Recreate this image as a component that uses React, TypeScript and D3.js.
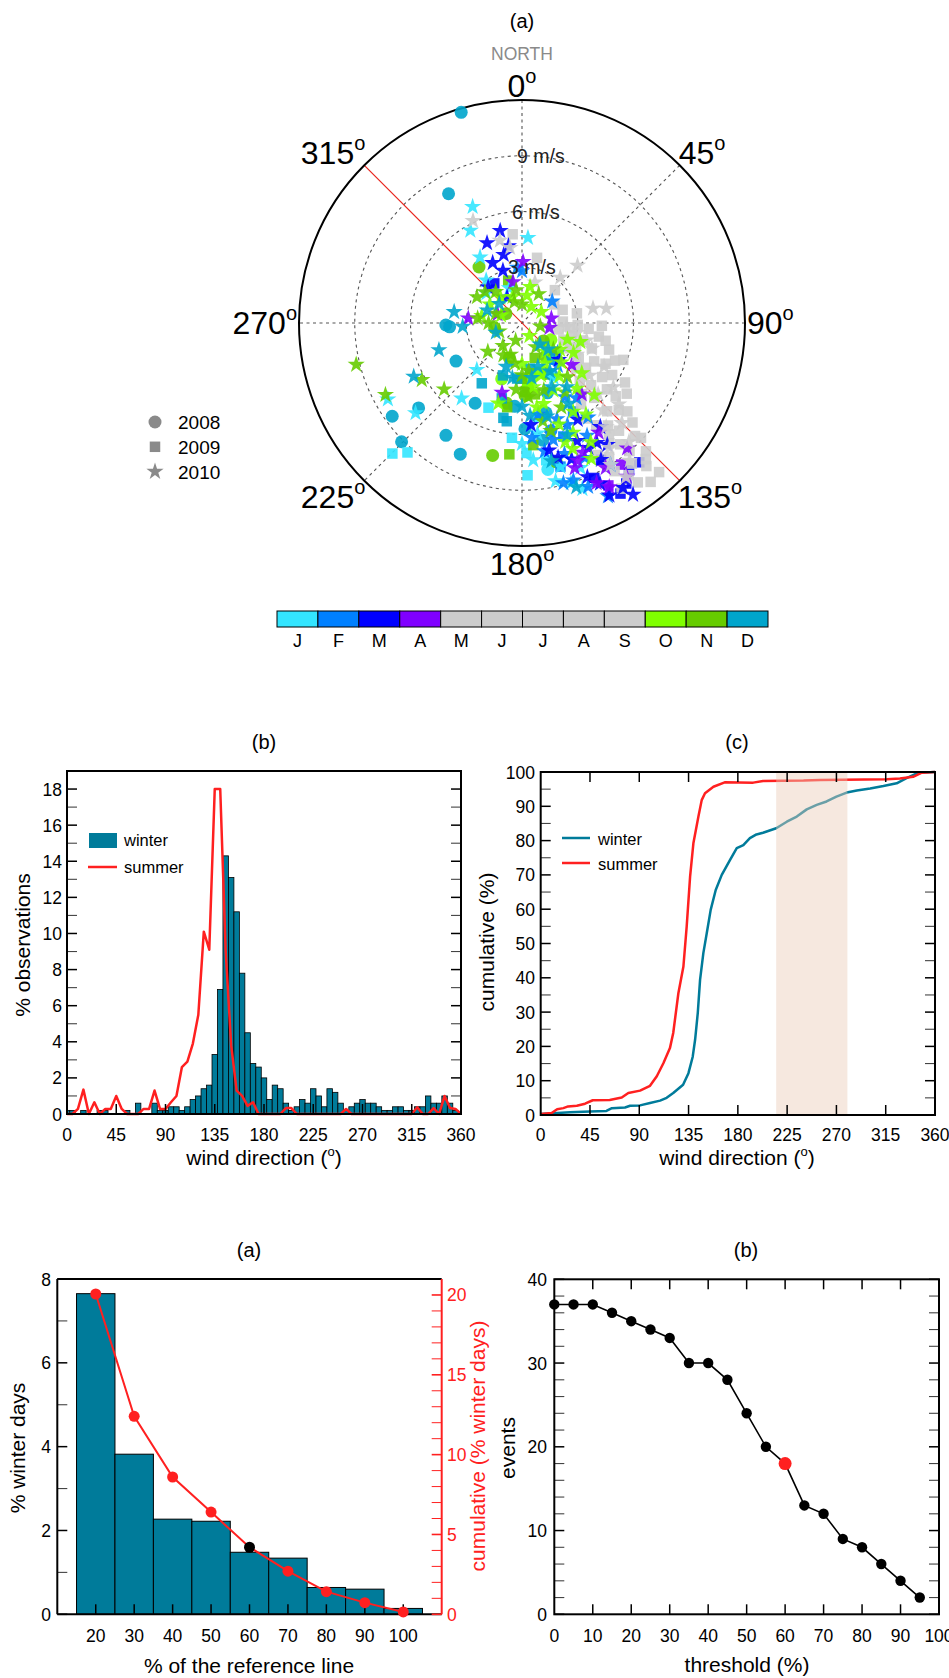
import React from 'react';
import * as d3 from 'd3';

const FONT = '"Liberation Sans", Arial, Helvetica, sans-serif';
const TEAL = '#007b9a';
const RED = '#ff2020';

/* ---------------- (a) polar scatter ---------------- */
const monthLabels = ['J', 'F', 'M', 'A', 'M', 'J', 'J', 'A', 'S', 'O', 'N', 'D'];
const monthColors = ['#33e5ff', '#0080ff', '#0000ff', '#8000ff', '#cccccc', '#cccccc', '#cccccc', '#cccccc', '#cccccc', '#80ff00', '#66cc00', '#00a5cc'];
const yearLabels = ['2008', '2009', '2010'];
const speedRings = [3, 6, 9];
const compassDirections = [0, 45, 90, 135, 180, 225, 270, 315];
const dashedAxes = [0, 45, 90];
const referenceDirection = 315;

// [month (1-12), direction (deg), speed (m/s)]
const points2008: number[][] = [
  [12, 343.9, 11.8], [12, 330.4, 8.0], [12, 268.5, 4.1], [12, 267, 3.9], [12, 240, 4.1], [12, 234.3, 8.6], [12, 230.6, 7.2],
  [12, 210.3, 5.0], [12, 225.4, 9.1], [12, 214.1, 7.3], [12, 205.2, 7.8], [12, 178.4, 5.7], [12, 185, 4.5], [12, 160, 4.0],
  [12, 150, 3.2], [12, 140, 2.5], [12, 170, 6.4], [12, 165, 5.0],
  [11, 322.5, 3.8], [11, 192.5, 7.3], [11, 190.8, 4.4], [11, 166.1, 7.7], [11, 177.6, 3.9], [11, 175, 3.5], [11, 200, 2.0],
  [11, 155, 3.0], [11, 145, 2.2], [11, 130, 1.5], [11, 300, 1.0], [11, 260, 1.5],
  [10, 170, 3.0], [10, 120, 1.8], [10, 200, 3.2],
  [2, 165, 6.0], [1, 170, 8.0],
];

const points2009: number[][] = [
  [1, 201.6, 4.9], [1, 224.8, 9.9], [1, 221.5, 9.3], [1, 177.9, 8.2], [1, 185, 6.2], [1, 178, 7.0], [1, 170, 7.5],
  [2, 160, 6.5], [2, 150, 5.5], [2, 165, 8.0],
  [3, 144, 9.8], [3, 139.9, 9.8], [3, 325, 2.6], [3, 150, 8.5], [3, 155, 9.2], [3, 147, 10.3], [3, 150, 10.6],
  [4, 145, 9.3], [4, 152, 9.9],
  [5, 88, 2.2], [5, 95, 2.6], [5, 100, 2.0], [5, 105, 2.8], [5, 112, 2.4], [5, 118, 2.9], [5, 92, 3.0],
  [6, 95, 3.6], [6, 100, 4.2], [6, 106, 3.4], [6, 110, 4.0], [6, 115, 3.2], [6, 118, 4.4], [6, 122, 3.6], [6, 125, 4.2],
  [6, 130, 3.8], [6, 135, 4.4], [6, 92, 4.3], [6, 102, 4.6],
  [7, 107, 4.9], [7, 112, 5.4], [7, 116, 5.0], [7, 120, 5.6], [7, 124, 5.2], [7, 128, 5.8], [7, 132, 5.0], [7, 136, 5.6],
  [7, 140, 5.0], [7, 144, 5.4], [7, 110, 5.8],
  [8, 120, 6.4], [8, 124, 6.8], [8, 128, 6.4], [8, 132, 7.0], [8, 136, 6.6], [8, 140, 7.2], [8, 144, 6.8], [8, 146, 6.2],
  [8, 130, 7.4], [8, 142, 7.6],
  [9, 132, 8.0], [9, 135, 8.6], [9, 138, 7.8], [9, 141, 8.4], [9, 144, 8.0], [9, 147, 8.6], [9, 150, 8.2], [9, 134, 8.9],
  [9, 140, 9.0], [9, 136, 9.6], [9, 139, 10.2], [9, 142, 9.6], [9, 145, 10.0], [9, 148, 9.4], [9, 137.4, 10.9],
  [9, 137.7, 9.9], [9, 144, 10.6], [9, 141, 11.0], [9, 149, 10.4],
  [5, 72, 2.3], [5, 45, 2.5], [6, 13, 3.6], [7, 354, 4.8], [8, 60, 2.0], [8, 80, 3.0],
  [10, 175, 3.2], [10, 160, 2.8],
  [11, 185.5, 7.1], [11, 174.7, 6.6], [11, 177.5, 3.7], [11, 169.8, 3.9], [11, 342, 2.4], [11, 180, 3.0], [11, 190, 4.6], [11, 160, 2.0],
  [12, 213.7, 3.9], [12, 191.1, 5.2], [12, 188.8, 5.35], [12, 200, 3.0], [12, 185, 3.0], [12, 170, 2.5], [12, 195, 4.2],
];

const points2010: number[][] = [
  [1, 337, 6.8], [1, 330.8, 5.7], [1, 4, 4.6], [1, 327.5, 4.2], [1, 218.7, 5.2], [1, 224, 3.5], [1, 240.4, 8.3], [1, 229.8, 7.5],
  [1, 175.3, 7.4], [1, 165, 8.0], [1, 168, 8.7], [1, 160, 9.5], [1, 172, 6.0], [1, 180, 6.5], [1, 310, 2.5], [1, 320, 3.0],
  [1, 163, 9.0], [1, 158, 8.4], [1, 170, 5.2], [1, 150, 3.4], [1, 340, 2.0],
  [2, 160, 5.5], [2, 165, 6.5], [2, 150, 7.0], [2, 155, 8.0], [2, 153.6, 10.4], [2, 161.9, 8.9], [2, 165.5, 8.9], [2, 170, 7.0],
  [2, 145, 6.2], [2, 158, 9.5], [2, 148, 9.0], [2, 140, 3.0], [2, 130, 2.5], [2, 54.3, 2.0], [2, 355, 3.0], [2, 170, 5.0],
  [2, 175, 6.2], [2, 162, 7.4], [2, 156, 6.0], [2, 150, 4.6], [2, 144, 5.0], [2, 0, 2.8],
  [3, 154.1, 9.6], [3, 153.1, 10.4], [3, 148.5, 10.4], [3, 147.1, 11.0], [3, 150, 8.5], [3, 155, 7.0], [3, 160, 7.8], [3, 145, 8.0],
  [3, 143, 7.0], [3, 346.7, 5.1], [3, 336.4, 4.7], [3, 334, 3.6], [3, 316.6, 2.65], [3, 345, 3.8], [3, 340, 3.0], [3, 150, 6.0],
  [3, 165, 7.5], [3, 135, 2.8], [3, 175, 5.5], [3, 168, 7.0], [3, 157, 9.0], [3, 152, 7.6], [3, 148, 7.6], [3, 330, 1.6], [3, 350, 4.2],
  [4, 145.7, 10.0], [4, 154.8, 7.7], [4, 81, 1.6], [4, 1, 3.3], [4, 347.6, 2.25], [4, 275, 2.9], [4, 196, 3.9], [4, 150, 9.0],
  [4, 155, 9.5], [4, 140, 8.8], [4, 160, 8.3], [4, 140, 5.0], [4, 130, 3.5], [4, 100, 1.5], [4, 145, 7.2], [4, 158, 8.0],
  [4, 152, 10.0], [4, 290, 1.4],
  [5, 44, 4.3], [5, 40, 3.2], [5, 78.4, 3.9], [6, 80.2, 4.6], [6, 17.6, 2.3], [6, 345, 4.6], [7, 351, 4.1], [7, 334.4, 6.1],
  [7, 100, 3.0], [7, 110, 4.0], [7, 118, 5.0], [8, 125, 6.0], [8, 130, 6.8], [8, 135, 7.6], [8, 138, 8.6], [8, 142, 9.4],
  [9, 146, 10.0], [9, 120, 3.4], [9, 128, 4.6], [9, 133, 5.6], [9, 137, 6.4], [9, 141, 7.2], [9, 145, 8.2], [9, 148, 9.0],
  [5, 105, 3.6], [6, 115, 2.8], [7, 95, 2.4],
  [10, 196.4, 4.5], [10, 107.9, 3.3], [10, 12.5, 2.0], [10, 153, 8.2], [10, 300, 2.0], [10, 320, 1.8], [10, 280, 2.2], [10, 10, 1.5],
  [10, 60, 1.2], [10, 150, 0.8], [10, 140, 2.0], [10, 150, 2.5], [10, 160, 3.0], [10, 170, 3.5], [10, 155, 4.0], [10, 145, 3.5],
  [10, 165, 4.5], [10, 135, 3.0], [10, 125, 2.5], [10, 150, 5.5], [10, 155, 6.5], [10, 145, 6.0], [10, 158, 7.3], [10, 130, 4.2],
  [10, 140, 4.6], [10, 160, 5.8], [10, 180, 2.2], [10, 120, 3.2], [10, 110, 2.6], [10, 290, 1.2], [10, 340, 1.5], [10, 30, 1.0],
  [10, 160, 6.8], [10, 150, 7.4], [10, 170, 4.6], [10, 135, 5.5],
  [11, 255.9, 9.2], [11, 240.4, 6.2], [11, 242.3, 8.3], [11, 229.6, 5.5], [11, 276, 2.4], [11, 290, 1.5], [11, 340, 1.2], [11, 30, 1.8],
  [11, 100, 1.0], [11, 200, 1.0], [11, 250, 1.3], [11, 270, 1.8], [11, 180, 2.8], [11, 190, 2.2], [11, 200, 1.8], [11, 175, 4.0],
  [11, 185, 3.6], [11, 210, 2.0], [11, 220, 1.6], [11, 230, 2.4], [11, 165, 6.0], [11, 162, 3.8], [11, 148, 4.4], [11, 172, 2.6],
  [11, 310, 2.6], [11, 320, 2.2], [11, 300, 2.8], [11, 350, 1.8], [11, 0, 1.0], [11, 150, 1.5], [11, 140, 3.8], [11, 130, 2.2],
  [11, 155, 5.0], [11, 168, 5.4],
  [12, 279.3, 3.7], [12, 266.5, 3.2], [12, 252, 4.7], [12, 243.7, 6.5], [12, 161.7, 9.3], [12, 160, 2.5], [12, 170, 3.0], [12, 150, 3.0],
  [12, 145, 4.2], [12, 175, 5.0], [12, 165, 5.2], [12, 155, 3.8], [12, 180, 4.5], [12, 190, 3.0], [12, 135, 2.0], [12, 200, 2.5],
  [12, 250, 1.5], [12, 158, 6.5], [12, 168, 7.6], [12, 150, 5.0], [12, 140, 1.5], [12, 290, 2.0], [12, 310, 1.6],
];

/* ---------------- (b) histogram ---------------- */
const histBinCenters = [0, 5, 10, 15, 20, 25, 30, 35, 40, 45, 50, 55, 60, 65, 70, 75, 80, 85, 90, 95, 100, 105, 110, 115, 120, 125, 130, 135, 140, 145, 150, 155, 160, 165, 170, 175, 180, 185, 190, 195, 200, 205, 210, 215, 220, 225, 230, 235, 240, 245, 250, 255, 260, 265, 270, 275, 280, 285, 290, 295, 300, 305, 310, 315, 320, 325, 330, 335, 340, 345, 350, 355];
const winterPct = [0.2, 0.2, 0, 0.2, 0, 0, 0.2, 0.2, 0, 0, 0, 0.2, 0, 0.6, 0, 0, 0.6, 0.2, 0.2, 0.4, 0.4, 0.2, 0.4, 0.8, 1.0, 1.4, 1.6, 3.3, 6.9, 14.3, 13.1, 11.2, 7.8, 4.5, 2.8, 2.6, 2.0, 0.8, 1.6, 1.4, 0.6, 0.2, 0.4, 0.8, 0.6, 1.4, 1.0, 0.4, 1.4, 1.2, 0.6, 0.2, 0.4, 0.6, 0.8, 0.6, 0.6, 0.4, 0.2, 0.2, 0.4, 0.4, 0.2, 0.2, 0.4, 0.4, 1.0, 0.6, 0.6, 1.0, 0.6, 0.2];
const summerDirs = [0, 5, 10, 15, 20, 25, 30, 35, 40, 45, 50, 55, 60, 65, 70, 75, 80, 85, 90, 95, 100, 105, 110, 115, 120, 125, 130, 135, 140, 145, 150, 155, 160, 165, 170, 175, 180, 185, 190, 195, 200, 205, 210, 215, 220, 225, 230, 235, 240, 245, 250, 255, 260, 265, 270, 275, 280, 285, 290, 295, 300, 305, 310, 315, 320, 325, 330, 335, 340, 345, 350, 355, 360];
const summerPct = [0, 0, 0.28, 1.35, 0, 0.65, 0, 0.28, 0.28, 1.0, 0.28, 0, 0, 0, 0.28, 0.28, 1.3, 0.28, 0.28, 0.65, 1.0, 2.6, 2.9, 3.9, 5.5, 10.1, 9.1, 18, 18, 9.0, 3.8, 1.3, 1.0, 0.45, 0.65, 0, 0, 0, 0, 0, 0.33, 0.33, 0, 0, 0, 0, 0, 0, 0, 0, 0, 0.28, 0, 0, 0, 0, 0, 0, 0, 0, 0, 0, 0, 0, 0.37, 0, 0, 0.33, 0, 1.0, 0.33, 0.28, 0];
const directionTicks = [0, 45, 90, 135, 180, 225, 270, 315, 360];
const histYTicks = [0, 2, 4, 6, 8, 10, 12, 14, 16, 18];

/* ---------------- (c) cumulative ---------------- */
const winterCumDir = [0, 26.8, 45, 60, 65, 77, 81.6, 90.7, 99.8, 109, 115, 121, 130, 134.9, 138.8, 141, 143.4, 145.5, 148.5, 151.6, 155.2, 159.8, 165.3, 172.9, 179, 185, 191, 197, 203, 215, 224.7, 233.8, 242.9, 252, 261, 270, 279.4, 288.6, 300.8, 312.9, 325, 334, 341.9, 346.4, 360];
const winterCum = [0.3, 0.8, 1.0, 1.2, 2.0, 2.2, 2.7, 2.8, 3.5, 4.2, 5.0, 6.4, 8.8, 12.2, 17, 22, 29.7, 39.4, 47.2, 53, 59.8, 65.6, 70, 74.4, 77.8, 78.7, 80.7, 81.8, 82.3, 83.6, 85.5, 87, 89.1, 90.4, 91.4, 92.8, 94, 94.6, 95.2, 95.9, 96.7, 98.2, 99.4, 99.8, 100];
const summerCumDir = [0, 10, 15, 20.7, 25, 33, 40.5, 47.5, 63, 74, 80, 90.7, 99.8, 106, 112, 118, 121, 125.7, 130.3, 133.3, 136.4, 139.4, 144, 147, 150, 157.7, 168, 194, 203, 240, 255, 316, 328, 340, 348, 360];
const summerCum = [0.3, 0.6, 1.7, 2.0, 2.5, 2.7, 3.3, 4.3, 4.4, 5.1, 6.4, 7.1, 8.5, 11.3, 15.1, 19.5, 23.9, 35.5, 43.3, 55, 69.5, 79.2, 87, 91.8, 93.8, 95.7, 97, 96.9, 97.4, 97.5, 97.7, 97.9, 98.1, 98.6, 99.8, 100];
const shadedSector = [215, 280];
const cumYTicks = [0, 10, 20, 30, 40, 50, 60, 70, 80, 90, 100];

/* ---------------- bottom (a) ---------------- */
const refLinePct = [20, 30, 40, 50, 60, 70, 80, 90, 100];
const winterDaysPct = [7.65, 3.82, 2.27, 2.22, 1.48, 1.34, 0.64, 0.6, 0.14];
const cumulativeWinterDays = [20.06, 12.4, 8.6, 6.4, 4.2, 2.7, 1.42, 0.73, 0.15];
const highlightedRef = 60;
const winterDaysTicks = [0, 2, 4, 6, 8];
const cumulativeTicks = [0, 5, 10, 15, 20];

/* ---------------- bottom (b) ---------------- */
const thresholds = [0, 5, 10, 15, 20, 25, 30, 35, 40, 45, 50, 55, 60, 65, 70, 75, 80, 85, 90, 95];
const events = [37, 37, 37, 36, 35, 34, 33, 30, 30, 28, 24, 20, 18, 13, 12, 9, 8, 6, 4, 2];
const highlightedThreshold = 60;
const thresholdTicks = [0, 10, 20, 30, 40, 50, 60, 70, 80, 90, 100];
const eventTicks = [0, 10, 20, 30, 40];

const Deg = ({ x, y, v, anchor, size = 18, sup = 12, dy = -8, close = '' }: any) => (
  <text x={x} y={y} textAnchor={anchor} fontSize={size} fontFamily={FONT}>
    {v}
    <tspan dy={dy} fontSize={sup}>o</tspan>
    {close ? <tspan dy={-dy}>{close}</tspan> : null}
  </text>
);

export default function App() {
  /* ----- polar ----- */
  const pcx = 522, pcy = 323, PR = 223;
  const rScale = d3.scaleLinear().domain([0, 12]).range([0, PR]);
  const pos = (dir: number, spd: number) => {
    const a = (dir * Math.PI) / 180;
    const r = rScale(spd);
    return [pcx + r * Math.sin(a), pcy - r * Math.cos(a)];
  };
  const symCircle = d3.symbol().type(d3.symbolCircle).size(Math.PI * 6.5 * 6.5)() as string;
  const symSquare = d3.symbol().type(d3.symbolSquare).size(10.5 * 10.5)() as string;
  const symStar = d3.symbol().type(d3.symbolStar).size(92)() as string;
  const yearSymbols = [symCircle, symSquare, symStar];
  const allPoints: { m: number; d: number; s: number; y: number }[] = [];
  [points2008, points2009, points2010].forEach((arr, yi) => {
    const sorted = [...arr].sort((a, b) => a[0] - b[0]);
    sorted.forEach((p) => allPoints.push({ m: p[0], d: p[1], s: p[2], y: yi }));
  });

  const compassLabelStyle: Record<number, { dx: number; dy: number; anchor: string }> = {
    0: { dx: 0, dy: -3, anchor: 'middle' },
    45: { dx: -1, dy: -1, anchor: 'start' },
    90: { dx: 2, dy: 11, anchor: 'start' },
    135: { dx: -2, dy: 27, anchor: 'start' },
    180: { dx: 0, dy: 29, anchor: 'middle' },
    225: { dx: 1, dy: 27, anchor: 'end' },
    270: { dx: -2, dy: 11, anchor: 'end' },
    315: { dx: 1, dy: -1, anchor: 'end' },
  };
  const ringLabelDx = [-14, -10, -5];

  const cbX = d3.scaleBand<number>().domain(d3.range(12)).range([277, 768]).padding(0);

  /* ----- panel (b) ----- */
  const bx = d3.scaleLinear().domain([0, 360]).range([67, 461]);
  const by = d3.scaleLinear().domain([0, 19]).range([1114, 771]);
  const summerLine = d3.line<number>().x((d, i) => bx(summerDirs[i])).y((d) => by(d))(summerPct) as string;

  /* ----- panel (c) ----- */
  const cx2 = d3.scaleLinear().domain([0, 360]).range([540.7, 935]);
  const cy2 = d3.scaleLinear().domain([0, 100]).range([1115, 772]);
  const winterCumLine = d3.line<number>().x((d, i) => cx2(winterCumDir[i])).y((d) => cy2(d))(winterCum) as string;
  const summerCumLine = d3.line<number>().x((d, i) => cx2(summerCumDir[i])).y((d) => cy2(d))(summerCum) as string;

  /* ----- bottom (a) ----- */
  const ax = d3.scaleLinear().domain([10, 110]).range([57.3, 441.7]);
  const ayL = d3.scaleLinear().domain([0, 8]).range([1614.3, 1279]);
  const ayR = d3.scaleLinear().domain([0, 21]).range([1614.3, 1279]);
  const cumLine = d3.line<number>().x((d, i) => ax(refLinePct[i])).y((d) => ayR(d))(cumulativeWinterDays) as string;

  /* ----- bottom (b) ----- */
  const ex = d3.scaleLinear().domain([0, 100]).range([554.3, 939]);
  const ey = d3.scaleLinear().domain([0, 40]).range([1614.3, 1279.3]);
  const eventsLine = d3.line<number>().x((d, i) => ex(thresholds[i])).y((d) => ey(d))(events) as string;

  const TL = 10; // tick length
  const tickFont = 17.5;
  const titleFont = 20;
  const axisFont = 21;

  const yTicksBoth = (scale: any, vals: number[], x0: number, x1: number, majorEvery: number, key: string) =>
    vals.map((v) => {
      const y = scale(v);
      const major = Math.abs(v / majorEvery - Math.round(v / majorEvery)) < 1e-6;
      const st = major ? '#000' : '#444';
      const w = major ? 1.5 : 1.1;
      return (
        <g key={key + v}>
          <line x1={x0} x2={x0 + TL} y1={y} y2={y} stroke={st} strokeWidth={w} />
          <line x1={x1} x2={x1 - TL} y1={y} y2={y} stroke={st} strokeWidth={w} />
        </g>
      );
    });

  return (
    <svg width={949} height={1678} style={{ position: 'absolute', left: 0, top: 0, background: '#fff' }} fontFamily={FONT}>
      <rect x={0} y={0} width={949} height={1678} fill="#fff" />

      {/* ================= (a) polar ================= */}
      <text x={pcx} y={28} textAnchor="middle" fontSize={titleFont}>(a)</text>
      <text x={pcx} y={60} textAnchor="middle" fontSize={17.5} fill="#8a8a8a">NORTH</text>
      {speedRings.map((s) => (
        <circle key={'ring' + s} cx={pcx} cy={pcy} r={rScale(s)} fill="none" stroke="#555" strokeWidth={1.1} strokeDasharray="3,3.5" />
      ))}
      {dashedAxes.map((a) => {
        const [x1, y1] = pos(a, 12);
        const [x2, y2] = pos(a + 180, 12);
        return <line key={'ax' + a} x1={x1} y1={y1} x2={x2} y2={y2} stroke="#555" strokeWidth={1.1} strokeDasharray="3,3.5" />;
      })}
      {(() => {
        const [x1, y1] = pos(referenceDirection, 12);
        const [x2, y2] = pos(referenceDirection - 180, 12);
        return <line x1={x1} y1={y1} x2={x2} y2={y2} stroke="#e8261e" strokeWidth={1.2} />;
      })()}
      <circle cx={pcx} cy={pcy} r={PR} fill="none" stroke="#000" strokeWidth={2} />
      {allPoints.map((p, i) => {
        const [x, y] = pos(p.d, p.s);
        return (
          <path key={'pt' + i} d={yearSymbols[p.y]} transform={`translate(${x},${y})`} fill={monthColors[p.m - 1]} fillOpacity={0.9} />
        );
      })}
      {speedRings.map((s, i) => (
        <text key={'rl' + s} x={pcx + ringLabelDx[i]} y={pcy - rScale(s) + 7} fontSize={19.5} fill="#222">
          {s} m/s
        </text>
      ))}
      {compassDirections.map((a) => {
        const [x, y] = pos(a, 12);
        const st = compassLabelStyle[a];
        return <Deg key={'cd' + a} x={x + st.dx} y={y + st.dy} v={a} anchor={st.anchor} size={32} sup={20} dy={-14} />;
      })}
      {/* year legend */}
      {yearLabels.map((yl, i) => (
        <g key={'yl' + yl}>
          <path d={yearSymbols[i]} transform={`translate(155,${422 + i * 24.8})`} fill="#8a8a8a" />
          <text x={178} y={429 + i * 24.8} fontSize={19}>{yl}</text>
        </g>
      ))}
      {/* colorbar */}
      {monthLabels.map((m, i) => (
        <g key={'cb' + i}>
          <rect x={cbX(i)} y={611} width={cbX.bandwidth()} height={16} fill={monthColors[i]} stroke="#000" strokeWidth={1} />
          <text x={(cbX(i) as number) + cbX.bandwidth() / 2} y={647} textAnchor="middle" fontSize={18}>{m}</text>
        </g>
      ))}

      {/* ================= (b) histogram ================= */}
      <text x={264} y={749} textAnchor="middle" fontSize={titleFont}>(b)</text>
      {histBinCenters.map((c, i) => {
        const x0 = bx(Math.max(0, c - 2.5));
        const x1 = bx(Math.min(360, c + 2.5));
        return winterPct[i] > 0 ? (
          <rect key={'hb' + i} x={x0} y={by(winterPct[i])} width={x1 - x0} height={by(0) - by(winterPct[i])} fill={TEAL} stroke="#000" strokeWidth={0.8} />
        ) : null;
      })}
      <path d={summerLine} fill="none" stroke={RED} strokeWidth={2.5} strokeLinejoin="round" />
      {yTicksBoth(by, d3.range(0, 20), 67, 461, 2, 'bt')}
      {directionTicks.slice(1, -1).map((v) => (
        <line key={'bxt' + v} x1={bx(v)} x2={bx(v)} y1={1114} y2={1114 - TL} stroke="#000" strokeWidth={1.5} />
      ))}
      <rect x={67} y={771} width={461 - 67} height={1114 - 771} fill="none" stroke="#000" strokeWidth={2} />
      {histYTicks.map((v) => (
        <text key={'byl' + v} x={62} y={by(v) + 6.5} textAnchor="end" fontSize={tickFont}>{v}</text>
      ))}
      {directionTicks.map((v) => (
        <text key={'bxl' + v} x={bx(v)} y={1141} textAnchor="middle" fontSize={tickFont}>{v}</text>
      ))}
      <Deg x={264} y={1165} v="wind direction (" anchor="middle" size={axisFont} sup={13} dy={-9} close=")" />
      <text transform="translate(30,945) rotate(-90)" textAnchor="middle" fontSize={axisFont}>% observations</text>
      {/* legend */}
      <rect x={89} y={833} width={28} height={15} fill={TEAL} />
      <text x={124} y={846} fontSize={16.5}>winter</text>
      <line x1={88} x2={117} y1={867} y2={867} stroke={RED} strokeWidth={2.5} />
      <text x={124} y={873} fontSize={16.5}>summer</text>

      {/* ================= (c) cumulative ================= */}
      <text x={737} y={749} textAnchor="middle" fontSize={titleFont}>(c)</text>
      <path d={winterCumLine} fill="none" stroke={TEAL} strokeWidth={2.5} strokeLinejoin="round" />
      <path d={summerCumLine} fill="none" stroke={RED} strokeWidth={2.5} strokeLinejoin="round" />
      <rect x={cx2(shadedSector[0])} y={772} width={cx2(shadedSector[1]) - cx2(shadedSector[0])} height={1115 - 772} fill="rgb(235,205,185)" fillOpacity={0.45} />
      {yTicksBoth(cy2, d3.range(0, 101, 5), 540.7, 935, 10, 'ct')}
      {directionTicks.slice(1, -1).map((v) => (
        <g key={'cxt' + v}>
          <line x1={cx2(v)} x2={cx2(v)} y1={1115} y2={1115 - TL} stroke="#000" strokeWidth={1.5} />
          <line x1={cx2(v)} x2={cx2(v)} y1={772} y2={772 + TL} stroke="#000" strokeWidth={1.5} />
        </g>
      ))}
      <rect x={540.7} y={772} width={935 - 540.7} height={1115 - 772} fill="none" stroke="#000" strokeWidth={2} />
      {cumYTicks.map((v) => (
        <text key={'cyl' + v} x={535} y={cy2(v) + 6.5} textAnchor="end" fontSize={tickFont}>{v}</text>
      ))}
      {directionTicks.map((v) => (
        <text key={'cxl' + v} x={cx2(v)} y={1141} textAnchor="middle" fontSize={tickFont}>{v}</text>
      ))}
      <Deg x={737} y={1165} v="wind direction (" anchor="middle" size={axisFont} sup={13} dy={-9} close=")" />
      <text transform="translate(494,942) rotate(-90)" textAnchor="middle" fontSize={axisFont}>cumulative (%)</text>
      <line x1={562} x2={590} y1={838} y2={838} stroke={TEAL} strokeWidth={2.5} />
      <text x={598} y={845} fontSize={16.5}>winter</text>
      <line x1={562} x2={590} y1={863} y2={863} stroke={RED} strokeWidth={2.5} />
      <text x={598} y={870} fontSize={16.5}>summer</text>

      {/* ================= bottom (a) ================= */}
      <text x={249} y={1257} textAnchor="middle" fontSize={titleFont}>(a)</text>
      {refLinePct.map((r, i) => (
        <rect key={'ab' + r} x={ax(r - 5)} y={ayL(winterDaysPct[i])} width={ax(r + 5) - ax(r - 5)} height={ayL(0) - ayL(winterDaysPct[i])} fill={TEAL} stroke="#000" strokeWidth={1} />
      ))}
      {d3.range(0, 9).map((v) => (
        <line key={'alt' + v} x1={57.3} x2={57.3 + TL} y1={ayL(v)} y2={ayL(v)} stroke={v % 2 === 0 ? '#000' : '#444'} strokeWidth={v % 2 === 0 ? 1.5 : 1.1} />
      ))}
      {refLinePct.map((r) => (
        <line key={'axt' + r} x1={ax(r)} x2={ax(r)} y1={1614.3} y2={1614.3 - TL} stroke="#000" strokeWidth={1.5} />
      ))}
      <line x1={57.3} x2={441.7} y1={1279} y2={1279} stroke="#000" strokeWidth={2} />
      <line x1={57.3} x2={57.3} y1={1279} y2={1614.3} stroke="#000" strokeWidth={2} />
      <line x1={57.3} x2={441.7} y1={1614.3} y2={1614.3} stroke="#000" strokeWidth={2} />
      <line x1={441.7} x2={441.7} y1={1279} y2={1614.3} stroke={RED} strokeWidth={2} />
      {d3.range(0, 21).map((v) => (
        <line key={'art' + v} x1={441.7} x2={441.7 - TL} y1={ayR(v)} y2={ayR(v)} stroke={RED} strokeWidth={v % 5 === 0 ? 1.6 : 1} />
      ))}
      <path d={cumLine} fill="none" stroke={RED} strokeWidth={2} />
      {refLinePct.map((r, i) => (
        <circle key={'ac' + r} cx={ax(r)} cy={ayR(cumulativeWinterDays[i])} r={5.5} fill={r === highlightedRef ? '#000' : RED} />
      ))}
      {winterDaysTicks.map((v) => (
        <text key={'ayl' + v} x={51} y={ayL(v) + 6.5} textAnchor="end" fontSize={tickFont}>{v}</text>
      ))}
      {cumulativeTicks.map((v) => (
        <text key={'ayr' + v} x={447} y={ayR(v) + 6.5} fontSize={tickFont} fill={RED}>{v}</text>
      ))}
      {refLinePct.map((r) => (
        <text key={'axl' + r} x={ax(r)} y={1642} textAnchor="middle" fontSize={tickFont}>{r}</text>
      ))}
      <text transform="translate(25,1448) rotate(-90)" textAnchor="middle" fontSize={axisFont}>% winter days</text>
      <text x={249} y={1673} textAnchor="middle" fontSize={axisFont}>% of the reference line</text>
      <text transform="translate(485,1446) rotate(-90)" textAnchor="middle" fontSize={axisFont} fill={RED}>cumulative (% winter days)</text>

      {/* ================= bottom (b) ================= */}
      <text x={746} y={1257} textAnchor="middle" fontSize={titleFont}>(b)</text>
      {yTicksBoth(ey, d3.range(0, 41, 2), 554.3, 939, 10, 'et')}
      {thresholdTicks.slice(1, -1).map((v) => (
        <g key={'ext' + v}>
          <line x1={ex(v)} x2={ex(v)} y1={1614.3} y2={1614.3 - TL} stroke="#000" strokeWidth={1.5} />
          <line x1={ex(v)} x2={ex(v)} y1={1279.3} y2={1279.3 + TL} stroke="#000" strokeWidth={1.5} />
        </g>
      ))}
      <rect x={554.3} y={1279.3} width={939 - 554.3} height={1614.3 - 1279.3} fill="none" stroke="#000" strokeWidth={2} />
      <path d={eventsLine} fill="none" stroke="#000" strokeWidth={1.6} />
      {thresholds.map((t, i) => (
        <circle key={'ec' + t} cx={ex(t)} cy={ey(events[i])} r={t === highlightedThreshold ? 6.5 : 5.2} fill={t === highlightedThreshold ? RED : '#000'} />
      ))}
      {eventTicks.map((v) => (
        <text key={'eyl' + v} x={547} y={ey(v) + 6.5} textAnchor="end" fontSize={tickFont}>{v}</text>
      ))}
      {thresholdTicks.map((v) => (
        <text key={'exl' + v} x={ex(v)} y={1642} textAnchor="middle" fontSize={tickFont}>{v}</text>
      ))}
      <text transform="translate(515,1448) rotate(-90)" textAnchor="middle" fontSize={axisFont}>events</text>
      <text x={747} y={1672} textAnchor="middle" fontSize={axisFont}>threshold (%)</text>
    </svg>
  );
}
